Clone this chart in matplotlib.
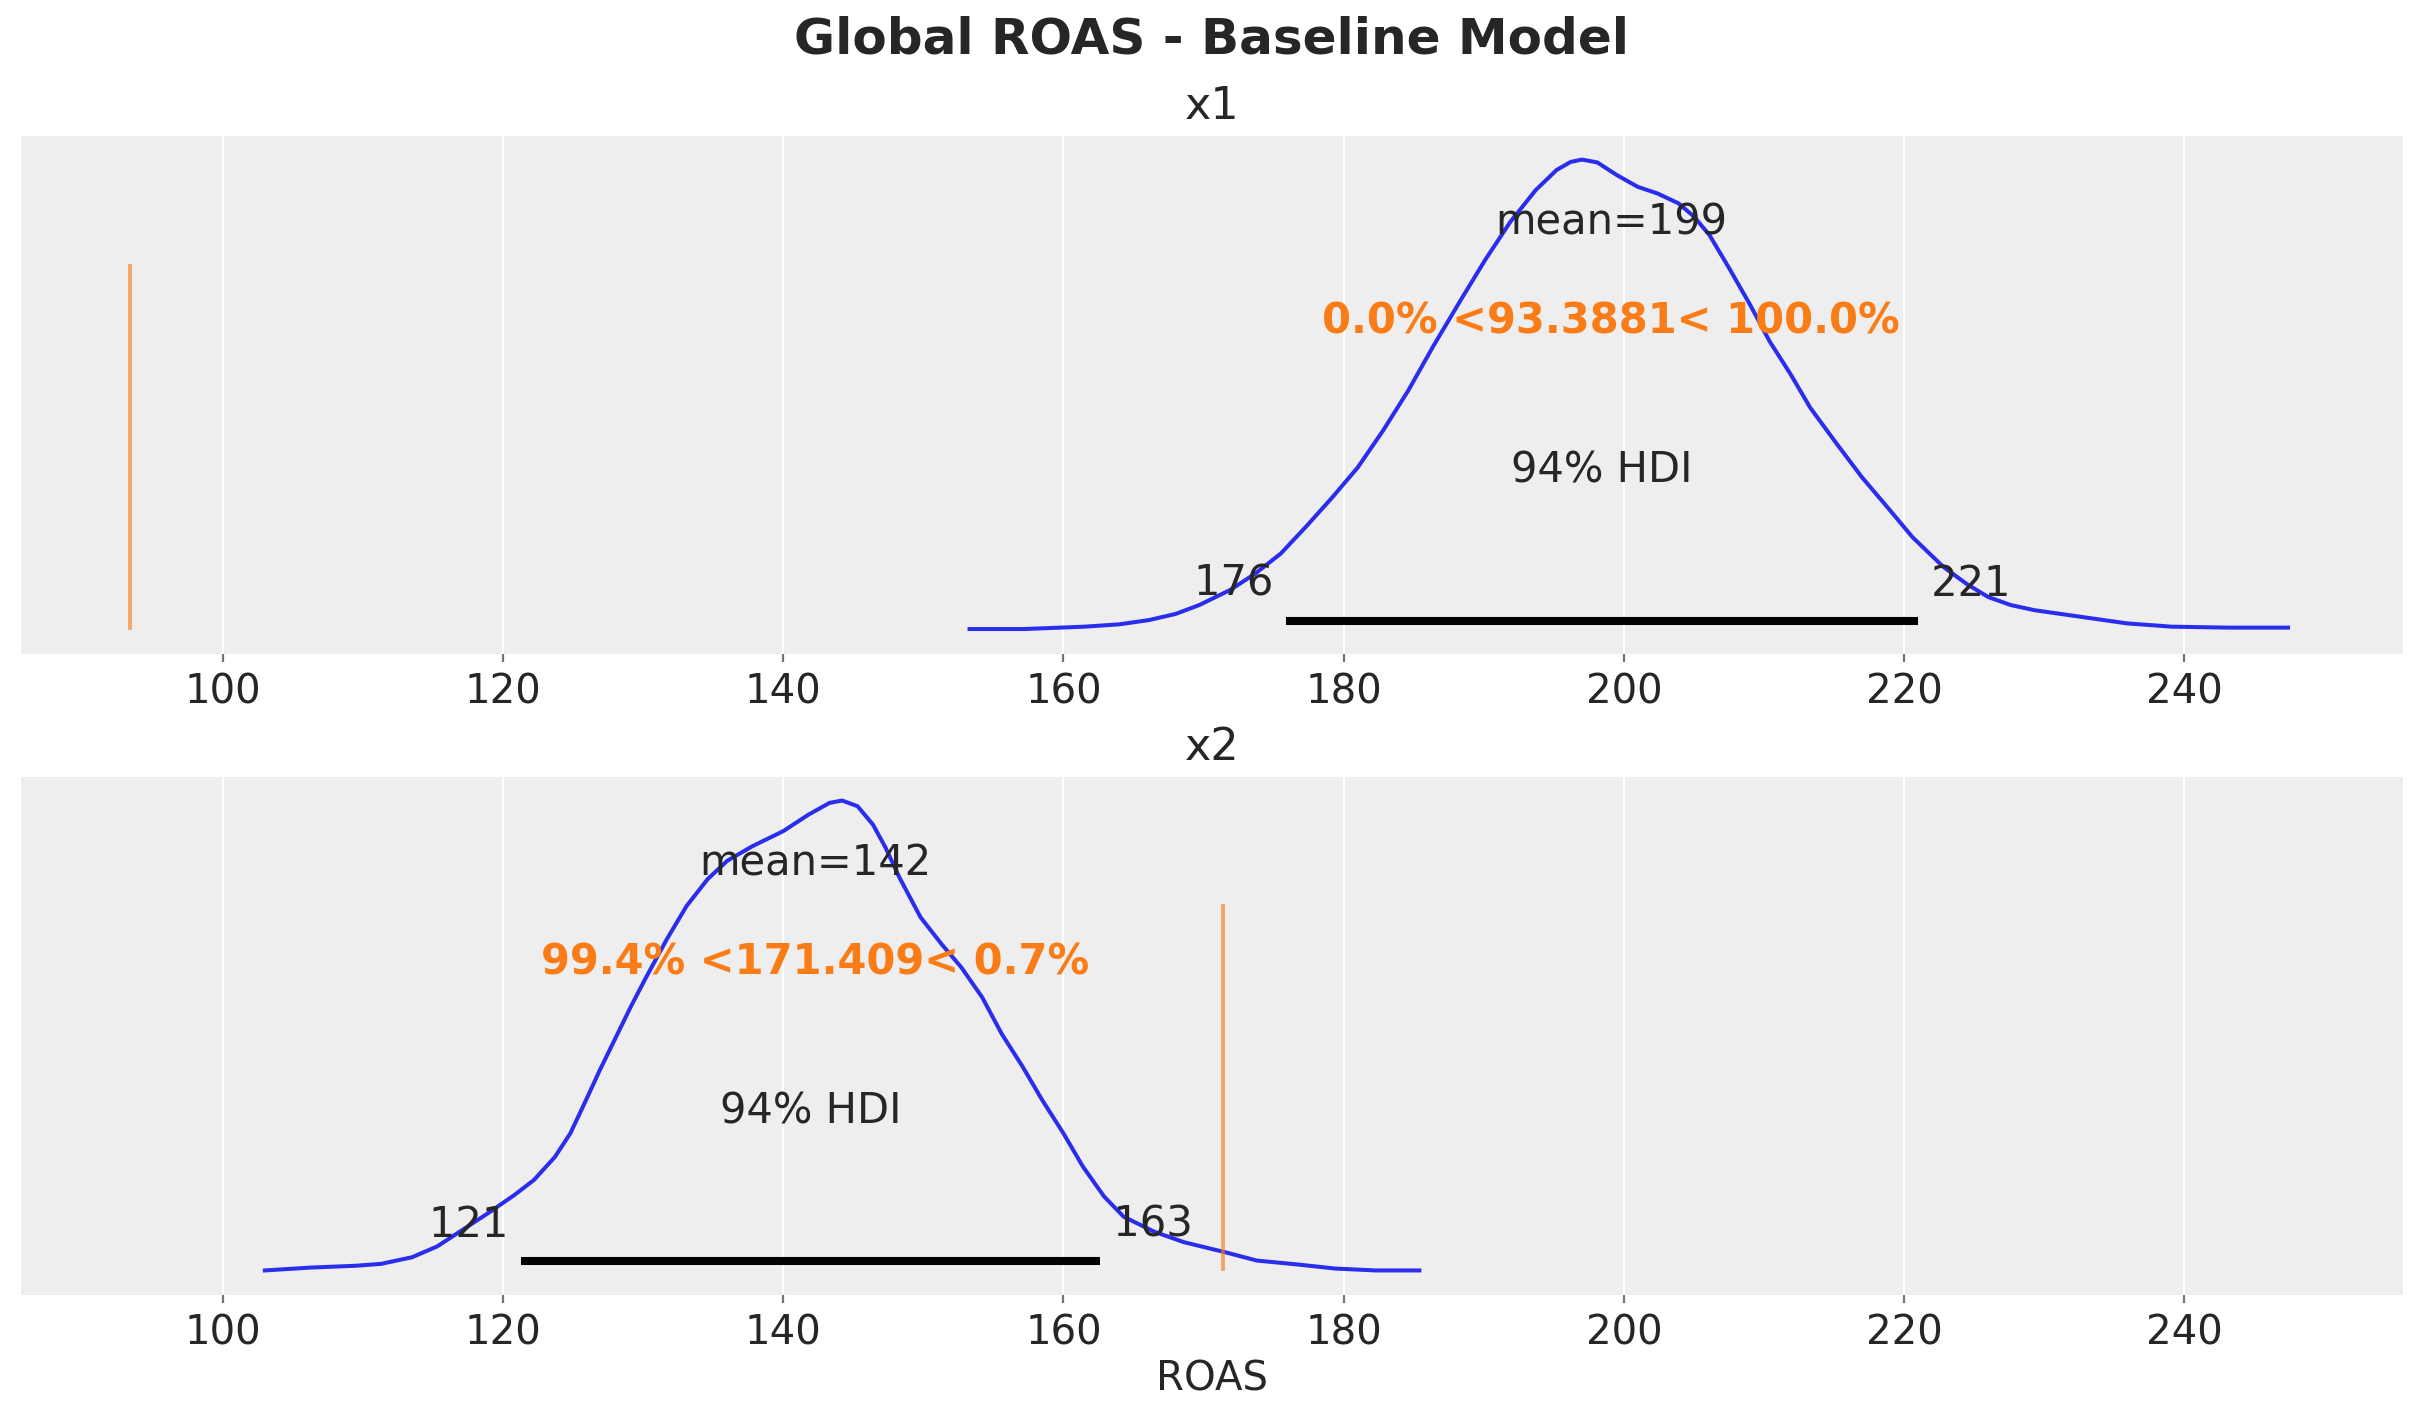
import matplotlib
matplotlib.use("Agg")
import matplotlib.pyplot as plt
from matplotlib.ticker import MultipleLocator

# --- data (density scaled to peak = 1) ---
x1_grid = [153.3, 157.2, 161.5, 164.0, 166.1, 168.0, 169.7, 171.9, 173.7, 175.5,
           177.3, 179.2, 181.0, 182.8, 184.6, 186.4, 188.3, 190.1, 191.9, 193.7,
           195.2, 196.2, 197.0, 198.1, 199.5, 201.0, 202.4, 203.9, 205.0, 206.1,
           207.5, 209.0, 210.4, 211.9, 213.3, 215.2, 217.0, 218.8, 220.6, 222.8,
           224.5, 226.0, 227.6, 229.3, 232.6, 235.9, 239.1, 243.1, 247.4]
x1_dens = [0.003, 0.003, 0.008, 0.013, 0.022, 0.035, 0.054, 0.086, 0.121, 0.163,
           0.220, 0.283, 0.346, 0.424, 0.509, 0.604, 0.699, 0.787, 0.868, 0.935,
           0.978, 0.995, 1.000, 0.994, 0.967, 0.942, 0.928, 0.907, 0.879, 0.840,
           0.770, 0.692, 0.614, 0.544, 0.473, 0.396, 0.325, 0.262, 0.198, 0.135,
           0.098, 0.071, 0.054, 0.043, 0.029, 0.015, 0.008, 0.006, 0.006]

x2_grid = [103.0, 106.2, 109.5, 111.3, 113.5, 115.3, 117.1, 118.9, 120.8, 122.2,
           123.7, 124.8, 125.8, 126.9, 128.0, 129.1, 130.2, 131.7, 133.1, 134.6,
           136.0, 137.8, 140.0, 141.8, 143.3, 144.2, 145.3, 146.4, 147.3, 148.3,
           149.8, 151.3, 152.7, 154.2, 155.6, 157.1, 158.5, 160.0, 161.4, 162.9,
           164.3, 166.5, 168.6, 171.5, 173.8, 176.6, 179.4, 182.3, 185.4]
x2_dens = [0.002, 0.008, 0.012, 0.016, 0.030, 0.053, 0.088, 0.123, 0.162, 0.194,
           0.243, 0.293, 0.356, 0.427, 0.494, 0.561, 0.624, 0.706, 0.776, 0.833,
           0.872, 0.903, 0.935, 0.970, 0.995, 1.000, 0.988, 0.949, 0.900, 0.836,
           0.752, 0.695, 0.646, 0.582, 0.504, 0.434, 0.363, 0.293, 0.222, 0.159,
           0.116, 0.084, 0.062, 0.041, 0.023, 0.015, 0.006, 0.002, 0.002]

panel_titles = ["x1", "x2"]
means = [199.1, 142.3]
hdi_low = [175.9, 121.3]
hdi_high = [221.0, 162.6]
ref_vals = [93.3881, 171.409]
ref_below = [0.0, 99.4]
ref_above = [100.0, 0.7]

TEXT = "#262626"
BLUE = "#2a2eec"
ORANGE = "#fa7c17"
LW = 1.45
FS = 15

plt.rcParams["font.family"] = ["DejaVu Sans"]
plt.rcParams["text.color"] = TEXT
plt.rcParams["xtick.color"] = "0.45"
plt.rcParams["xtick.labelcolor"] = TEXT

fig, axes = plt.subplots(2, 1, figsize=(12.115, 7.115), dpi=200)
fig.subplots_adjust(left=0.0087, right=0.9917, top=0.9044, bottom=0.09, hspace=0.2375)

curves = [(x1_grid, x1_dens), (x2_grid, x2_dens)]
for i, ax in enumerate(axes):
    xs, ds = curves[i]
    ax.set_facecolor("#eeeeee")
    for s in ax.spines.values():
        s.set_visible(False)
    ax.grid(True, axis="x", color="white", linewidth=0.75)
    ax.set_axisbelow(True)

    ax.plot(xs, ds, color=BLUE, lw=LW, solid_joinstyle="round")
    peak = max(ds)
    ax.set_ylim(-0.05 * peak, 1.05 * peak)
    h = ax.get_ylim()[1]

    # hdi bar and labels
    ax.plot([hdi_low[i], hdi_high[i]], [h * 0.02, h * 0.02], lw=LW * 2,
            color="k", solid_capstyle="butt")
    ax.text(hdi_low[i], h * 0.07, f"{hdi_low[i]:.0f} ", size=FS, ha="right")
    ax.text(hdi_high[i], h * 0.07, f" {hdi_high[i]:.0f}", size=FS, ha="left")
    ax.text((hdi_low[i] + hdi_high[i]) / 2, h * 0.3, "94% HDI", size=FS, ha="center")

    # point estimate
    ax.text(means[i], h * 0.8, f"mean={means[i]:.0f}", size=FS, ha="center")

    # reference value
    ax.axvline(ref_vals[i], ymin=0.05, ymax=0.75, lw=LW * 0.95, alpha=0.65, color=ORANGE)
    ref_txt = f"{ref_below[i]:.1f}% <{ref_vals[i]:g}< {ref_above[i]:.1f}%"
    ax.text(means[i], h * 0.6, ref_txt, size=FS, weight="bold", ha="center", color=ORANGE)

    ax.set_title(panel_titles[i], fontsize=16, color=TEXT)
    ax.set_xlim(85.6, 255.6)
    ax.xaxis.set_major_locator(MultipleLocator(20))
    ax.set_yticks([])
    ax.tick_params(axis="x", labelsize=14.5, length=2.8, width=0.8, pad=4)

axes[1].set_xlabel("ROAS", fontsize=14.5, color=TEXT, labelpad=2)
fig.suptitle("Global ROAS - Baseline Model", fontsize=18, fontweight="bold",
             color=TEXT, y=0.9722, va="center")

fig.savefig("out.png", dpi=200)
